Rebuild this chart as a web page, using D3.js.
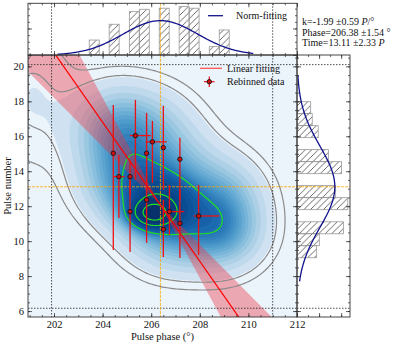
<!DOCTYPE html>
<meta charset="utf-8">
<style>
body { margin: 0; background: #fff; }
svg text { font-family: "Liberation Serif", "DejaVu Serif", serif; fill: #111; }
</style>
<svg width="399" height="346"></svg>
<script src="https://d3js.org/d3.v7.min.js"></script>
<script>
// rebinned data (phase in deg, pulse number) with bar ends
var phase   = [204.44, 204.67, 205.13, 205.35, 205.81, 206.05, 206.50, 207.18, 205.81, 205.13, 206.75, 206.50, 207.18, 207.95];
var pulse   = [15.03, 13.69, 13.69, 16.04, 15.03, 15.68, 15.35, 14.69, 12.36, 11.69, 11.69, 10.68, 11.02, 11.44];
var phaseLo = [204.44, 204.43, 205.03, 205.12, 205.81, 205.77, 206.50, 207.18, 205.81, 205.13, 206.49, 206.50, 207.18, 207.75];
var phaseHi = [204.44, 204.90, 205.18, 205.98, 205.81, 206.64, 206.50, 207.18, 205.81, 205.13, 207.36, 206.50, 207.18, 208.80];
var pulseLo = [9.50, 11.33, 12.64, 13.50, 12.64, 13.33, 12.93, 12.36, 9.90, 9.38, 10.35, 9.09, 9.04, 9.21];
var pulseHi = [17.79, 14.93, 14.65, 18.08, 17.34, 16.88, 17.74, 15.91, 13.79, 13.79, 13.22, 12.36, 12.93, 13.22];

// fit results
var slopeK = -1.99, slopeErr = 0.59;
var phaseMean = 206.38, phaseSd = 1.54;
var timeMean = 13.11, timeSd = 2.33;
var pivot = [206.38, 12.07];
var limitX = [201.9, 211.0], limitY = [6.16, 20.1];

// top histogram (phase), density
var histXEdges = [203.45, 204.27, 205.10, 205.51, 206.33, 207.15, 207.56, 208.39, 208.80];
var histXVals  = [0.113, 0.232, 0.327, 0.345, 0.353, 0.365, 0.353, 0.063, 0.189];
var histXWidth = 0.411;
var normXRange = [202.15, 210.2];

// right histogram (pulse), density
var histYEdges = [9.05, 9.74, 10.42, 11.80, 12.49, 13.86, 14.55, 15.92, 16.61, 17.29];
var histYVals  = [0.089, 0.101, 0.210, 0.230, 0.175, 0.202, 0.142, 0.096, 0.069, 0.062];
var histYWidth = 0.687;
var normYRange = [7.7, 19.5];

// density blobs
var blobX  = [206.05, 206.30, 204.50, 205.90, 208.90, 208.90, 207.00, 204.80, 206.60, 201.10];
var blobY  = [11.55, 12.10, 16.40, 16.40, 12.20, 10.40, 10.30, 13.70, 13.60, 18.20];
var blobSX = [0.55, 1.05, 1.10, 1.20, 1.05, 1.05, 1.20, 1.10, 1.30, 1.20];
var blobSY = [0.50, 1.10, 1.50, 1.50, 1.50, 1.30, 1.30, 1.50, 1.70, 2.60];
var blobW  = [0.06, 0.17, 0.11, 0.07, 0.11, 0.09, 0.10, 0.11, 0.18, 0.04];
var grayLevels  = [0.012, 0.035];
var greenLevels = [0.6, 0.88, 0.96];

var svg = d3.select("svg");
var M = {l: 28, r: 297, t: 55, b: 317};
var T = {t: 3.3, b: 55};
var R = {l: 297, r: 350};

var x = d3.scaleLinear().domain([200.93, 212]).range([M.l, M.r]);
var y = d3.scaleLinear().domain([5.66, 20.65]).range([M.b, M.t]);
var yTop = d3.scaleLinear().domain([0, 0.39]).range([T.b, T.t]);
var xRight = d3.scaleLinear().domain([0, 0.24]).range([R.l, R.r]);

var defs = svg.append("defs");
function clip(id, x0, y0, w, h) {
  defs.append("clipPath").attr("id", id).append("rect")
    .attr("x", x0).attr("y", y0).attr("width", w).attr("height", h);
}
clip("cm", M.l, M.t, M.r - M.l, M.b - M.t);
clip("ct", M.l, T.t, M.r - M.l, T.b - T.t);
clip("cr", R.l, M.t, R.r - R.l, M.b - M.t);

defs.append("pattern").attr("id", "hatch").attr("patternUnits", "userSpaceOnUse")
    .attr("width", 6.5).attr("height", 6.5)
  .append("path").attr("d", "M-1,1 l2,-2 M0,6.5 l6.5,-6.5 M5.5,7.5 l2,-2")
    .attr("stroke", "#444").attr("stroke-width", 0.8);

// ---------- density ----------
var step = 2;
var nx = Math.ceil((M.r - M.l) / step), ny = Math.ceil((M.b - M.t) / step);
var values = new Float64Array(nx * ny);
for (var j = 0; j < ny; j++) {
  for (var i = 0; i < nx; i++) {
    var px = x.invert(M.l + (i + 0.5) * step), py = y.invert(M.t + (j + 0.5) * step);
    var s = 0;
    for (var c = 0; c < blobX.length; c++) {
      var dx = (px - blobX[c]) / blobSX[c], dy = (py - blobY[c]) / blobSY[c];
      s += blobW[c] * Math.exp(-(dx * dx + dy * dy) / 2) / (blobSX[c] * blobSY[c]);
    }
    values[j * nx + i] = s;
  }
}
var sorted = Float64Array.from(values).sort();
var cum = d3.cumsum(sorted), total = cum[cum.length - 1];
function isoLevel(p) {
  var k = d3.bisectLeft(cum, p * total);
  return sorted[Math.min(k, sorted.length - 1)];
}
var proj = d3.geoPath(d3.geoIdentity().scale(step).translate([M.l, M.t]));
var contours = d3.contours().size([nx, ny]);

var gm = svg.append("g").attr("clip-path", "url(#cm)");
var nFill = 24;
var fillP = d3.range(nFill).map(function(k) { return k === 0 ? 0 : 0.002 + 0.998 * k / nFill; });
gm.append("g").selectAll("path")
  .data(fillP.map(function(p, k) {
    var th = k === 0 ? sorted[0] - 1 : isoLevel(p);
    var cc = contours.thresholds([th])(values)[0];
    cc.k = k;
    return cc;
  }))
  .join("path")
    .attr("d", proj)
    .attr("fill", function(d) { return d3.interpolateBlues(0.06 + 0.94 * Math.pow(d.k / (nFill - 1), 0.62)); });

// limit lines
function vline(g, v, y0, y1, col, dash) {
  g.append("line").attr("x1", x(v)).attr("x2", x(v)).attr("y1", y0).attr("y2", y1)
    .attr("stroke", col).attr("stroke-width", 0.8).attr("stroke-dasharray", dash);
}
function hline(g, v, x0, x1, col, dash) {
  g.append("line").attr("y1", y(v)).attr("y2", y(v)).attr("x1", x0).attr("x2", x1)
    .attr("stroke", col).attr("stroke-width", 0.8).attr("stroke-dasharray", dash);
}

// band of slopes k +- err through the pivot
var xd = x.domain();
var sA = slopeK - slopeErr, sB = slopeK + slopeErr;
function lineY(s, xv) { return pivot[1] + s * (xv - pivot[0]); }
var tri = [
  [[xd[0], lineY(sA, xd[0])], [xd[0], lineY(sB, xd[0])], pivot],
  [pivot, [xd[1], lineY(sA, xd[1])], [xd[1], lineY(sB, xd[1])]]
];
gm.selectAll(".band").data(tri).join("path")
  .attr("d", function(d) { return "M" + d.map(function(p) { return [x(p[0]), y(p[1])]; }).join("L") + "Z"; })
  .attr("fill", "#f0303c").attr("fill-opacity", 0.38);

// contour lines
var lineLv = grayLevels.map(function(p) { return {p: p, col: "#8a8a8a"}; })
  .concat(greenLevels.map(function(p) { return {p: p, col: "#22e022"}; }));
gm.append("g").selectAll("path")
  .data(lineLv.map(function(l) { var cc = contours.thresholds([isoLevel(l.p)])(values)[0]; cc.col = l.col; return cc; }))
  .join("path").attr("d", proj).attr("fill", "none")
  .attr("stroke", function(d) { return d.col; }).attr("stroke-width", 1.2);

vline(gm, limitX[0], M.t, M.b, "#222", "1.5,1.5");
vline(gm, limitX[1], M.t, M.b, "#222", "1.5,1.5");
hline(gm, limitY[0], M.l, M.r, "#222", "1.5,1.5");
hline(gm, limitY[1], M.l, M.r, "#222", "1.5,1.5");
vline(gm, phaseMean, M.t, M.b, "#ffa500", "3,1");
hline(gm, timeMean, M.l, M.r, "#ffa500", "3,1");

// fit line
gm.append("line")
  .attr("x1", x(xd[0])).attr("y1", y(lineY(slopeK, xd[0])))
  .attr("x2", x(xd[1])).attr("y2", y(lineY(slopeK, xd[1])))
  .attr("stroke", "#ff0000").attr("stroke-width", 1.2);

// error bars and points
var idx = d3.range(phase.length);
var eb = gm.append("g").attr("stroke", "#ee1111").attr("stroke-width", 1.3);
eb.selectAll(".v").data(idx).join("line")
  .attr("x1", function(k) { return x(phase[k]); }).attr("x2", function(k) { return x(phase[k]); })
  .attr("y1", function(k) { return y(pulseLo[k]); }).attr("y2", function(k) { return y(pulseHi[k]); });
eb.selectAll(".h").data(idx).join("line")
  .attr("y1", function(k) { return y(pulse[k]); }).attr("y2", function(k) { return y(pulse[k]); })
  .attr("x1", function(k) { return x(phaseLo[k]); }).attr("x2", function(k) { return x(phaseHi[k]); });
gm.append("g").selectAll("circle").data(idx).join("circle")
  .attr("cx", function(k) { return x(phase[k]); }).attr("cy", function(k) { return y(pulse[k]); })
  .attr("r", 2.2).attr("fill", "#d01010").attr("stroke", "#111").attr("stroke-width", 0.9);

// ---------- top panel ----------
var gt = svg.append("g").attr("clip-path", "url(#ct)");
gt.selectAll("rect").data(histXEdges).join("rect")
  .attr("x", function(d) { return x(d); })
  .attr("width", function(d) { return x(d + histXWidth) - x(d); })
  .attr("y", function(d, k) { return yTop(histXVals[k]); })
  .attr("height", function(d, k) { return T.b - yTop(histXVals[k]); })
  .attr("fill", "url(#hatch)").attr("stroke", "#999").attr("stroke-width", 0.8);
vline(gt, limitX[0], T.t, T.b, "#222", "1.5,1.5");
vline(gt, limitX[1], T.t, T.b, "#222", "1.5,1.5");
vline(gt, phaseMean, T.t, T.b, "#ffa500", "3,1");
var gx = d3.range(normXRange[0], normXRange[1] + 0.001, 0.05);
gt.append("path").datum(gx)
  .attr("d", d3.line().x(function(v) { return x(v); })
    .y(function(v) { return yTop(Math.exp(-0.5 * Math.pow((v - phaseMean) / phaseSd, 2)) / (phaseSd * Math.sqrt(2 * Math.PI))); }))
  .attr("fill", "none").attr("stroke", "#12128e").attr("stroke-width", 1.3);

// ---------- right panel ----------
var gr = svg.append("g").attr("clip-path", "url(#cr)");
gr.selectAll("rect").data(histYEdges).join("rect")
  .attr("x", R.l)
  .attr("width", function(d, k) { return xRight(histYVals[k]) - R.l; })
  .attr("y", function(d) { return y(d + histYWidth); })
  .attr("height", function(d) { return y(d) - y(d + histYWidth); })
  .attr("fill", "url(#hatch)").attr("stroke", "#999").attr("stroke-width", 0.8);
hline(gr, limitY[0], R.l, R.r, "#222", "1.5,1.5");
hline(gr, limitY[1], R.l, R.r, "#222", "1.5,1.5");
hline(gr, timeMean, R.l, R.r, "#ffa500", "3,1");
var gy = d3.range(normYRange[0], normYRange[1] + 0.001, 0.05);
gr.append("path").datum(gy)
  .attr("d", d3.line().y(function(v) { return y(v); })
    .x(function(v) { return xRight(Math.exp(-0.5 * Math.pow((v - timeMean) / timeSd, 2)) / (timeSd * Math.sqrt(2 * Math.PI))); }))
  .attr("fill", "none").attr("stroke", "#12128e").attr("stroke-width", 1.3);

// ---------- axes / frames ----------
function axis(gen, scale, major, minor, tx, ty, labels) {
  var g = svg.append("g").attr("transform", "translate(" + tx + "," + ty + ")");
  g.call(gen(scale).tickValues(minor).tickSize(-2).tickSizeOuter(0).tickFormat(""));
  g.append("g").call(gen(scale).tickValues(major).tickSize(-4).tickSizeOuter(0).tickPadding(4)
    .tickFormat(labels ? d3.format("d") : ""));
  g.selectAll(".domain").remove();
  g.selectAll("line").attr("stroke", "#222").attr("stroke-width", 0.7);
  g.selectAll("text").attr("font-size", 10.5).attr("fill", "#111")
    .style("font-family", '"Liberation Serif", "DejaVu Serif", serif');
  return g;
}
var xMaj = d3.range(202, 212.1, 2), xMin = d3.range(201, 212.1, 0.5);
var yMaj = d3.range(6, 20.1, 2), yMin = d3.range(6, 20.6, 0.5);
axis(d3.axisBottom, x, xMaj, xMin, 0, M.b, true);
axis(d3.axisTop, x, xMaj, xMin, 0, M.t, false);
axis(d3.axisLeft, y, yMaj, yMin, M.l, 0, true);
axis(d3.axisRight, y, yMaj, yMin, M.r, 0, false);
// top panel
axis(d3.axisTop, x, xMaj, xMin, 0, T.t, false);
axis(d3.axisBottom, x, xMaj, xMin, 0, T.b, false);
axis(d3.axisLeft, yTop, [0, 0.2], d3.range(0, 0.39, 0.05), M.l, 0, false);
axis(d3.axisRight, yTop, [0, 0.2], d3.range(0, 0.39, 0.05), M.r, 0, false);
// right panel
axis(d3.axisLeft, y, yMaj, yMin, R.l, 0, false);
axis(d3.axisRight, y, yMaj, yMin, R.r, 0, false);
axis(d3.axisBottom, xRight, [0, 0.1, 0.2], d3.range(0, 0.24, 0.05), 0, M.b, false);
axis(d3.axisTop, xRight, [0, 0.1, 0.2], d3.range(0, 0.24, 0.05), 0, M.t, false);

function frame(x0, y0, x1, y1) {
  svg.append("rect").attr("x", x0).attr("y", y0).attr("width", x1 - x0).attr("height", y1 - y0)
    .attr("fill", "none").attr("stroke", "#333").attr("stroke-width", 0.9);
}
frame(M.l, M.t, M.r, M.b);
frame(M.l, T.t, M.r, T.b);
frame(R.l, M.t, R.r, M.b);

// labels
svg.append("text").attr("x", (M.l + M.r) / 2).attr("y", 340).attr("text-anchor", "middle")
  .attr("font-size", 10.5).text("Pulse phase (°)");
svg.append("text").attr("transform", "translate(11," + (M.t + M.b) / 2 + ") rotate(-90)")
  .attr("text-anchor", "middle").attr("font-size", 10.5).text("Pulse number");

// legends
svg.append("line").attr("x1", 208).attr("x2", 223).attr("y1", 15.7).attr("y2", 15.7)
  .attr("stroke", "#12128e").attr("stroke-width", 1.3);
svg.append("text").attr("x", 236).attr("y", 19).attr("font-size", 10).text("Norm-fitting");

svg.append("line").attr("x1", 200).attr("x2", 222).attr("y1", 68.3).attr("y2", 68.3)
  .attr("stroke", "#ff5555").attr("stroke-width", 1.3);
svg.append("text").attr("x", 227).attr("y", 71.5).attr("font-size", 10).text("Linear fitting");
var lg = svg.append("g").attr("stroke", "#ee1111").attr("stroke-width", 1.2);
lg.append("line").attr("x1", 204).attr("x2", 214.5).attr("y1", 81.7).attr("y2", 81.7);
lg.append("line").attr("x1", 209.3).attr("x2", 209.3).attr("y1", 76.5).attr("y2", 87);
svg.append("circle").attr("cx", 209.3).attr("cy", 81.7).attr("r", 2.2)
  .attr("fill", "#d01010").attr("stroke", "#111").attr("stroke-width", 0.9);
svg.append("text").attr("x", 227).attr("y", 85).attr("font-size", 10).text("Rebinned data");

// fit summary
var st = svg.append("g").attr("font-size", 10);
var t1 = st.append("text").attr("x", 302).attr("y", 25);
t1.append("tspan").text("k=" + slopeK.toFixed(2) + " \u00b1" + slopeErr.toFixed(2) + " ");
t1.append("tspan").attr("font-style", "italic").text("P");
t1.append("tspan").text("/\u00b0");
st.append("text").attr("x", 302).attr("y", 35.7)
  .text("Phase=" + phaseMean.toFixed(2) + " \u00b1" + phaseSd.toFixed(2) + " \u00b0");
var t3 = st.append("text").attr("x", 302).attr("y", 46.3);
t3.append("tspan").text("Time=" + timeMean.toFixed(2) + " \u00b1" + timeSd.toFixed(2) + " ");
t3.append("tspan").attr("font-style", "italic").text("P");
</script>
